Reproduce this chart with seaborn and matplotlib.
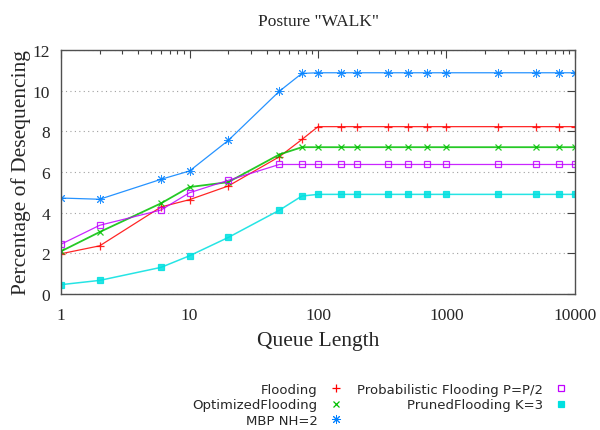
import matplotlib
matplotlib.use('Agg')
import matplotlib.pyplot as plt
from matplotlib.lines import Line2D
import pandas as pd
import seaborn as sns

# Data
queue_length = [1, 2, 6, 10, 20, 50, 75, 100, 150, 200, 350, 500, 700, 1000, 2500, 5000, 7500, 10000]

flooding = [1.98, 2.37, 4.28, 4.64, 5.31, 6.75, 7.6, 8.23, 8.23, 8.23, 8.23,
            8.23, 8.23, 8.23, 8.23, 8.23, 8.23, 8.23]
optimized = [2.1, 3.05, 4.46, 5.26, 5.5, 6.86, 7.22, 7.22, 7.22, 7.22, 7.22,
             7.22, 7.22, 7.22, 7.22, 7.22, 7.22, 7.22]
mbp = [4.72, 4.66, 5.64, 6.05, 7.55, 9.97, 10.85, 10.88, 10.88, 10.88, 10.88,
       10.88, 10.88, 10.88, 10.88, 10.88, 10.88, 10.88]
probabilistic = [2.45, 3.38, 4.13, 4.98, 5.59, 6.37, 6.37, 6.37, 6.37, 6.37, 6.37,
                 6.37, 6.37, 6.37, 6.37, 6.37, 6.37, 6.37]
pruned = [0.46, 0.67, 1.31, 1.88, 2.78, 4.12, 4.82, 4.9, 4.9, 4.9, 4.9,
          4.9, 4.9, 4.9, 4.9, 4.9, 4.9, 4.9]

series_names = ['Flooding', 'OptimizedFlooding', 'MBP NH=2',
                'Probabilistic Flooding P=P/2', 'PrunedFlooding K=3']
series_values = [flooding, optimized, mbp, probabilistic, pruned]

colors = ['#ff0000', '#00c000', '#0080ff', '#c000ff', '#00e0e0']
markers = ['+', 'x', (8, 2, 0), 's', 's']
marker_sizes = [6, 5, 6.5, 4.5, 5]
edge_widths = [0.9, 0.9, 0.7, 0.9, 0.9]
face_colors = ['none', 'none', 'none', 'none', '#00e0e0']
line_widths = [0.9, 1.3, 0.9, 0.9, 1.1]

x_ticks = [1, 10, 100, 1000, 10000]
x_tick_labels = ['1', '10', '100', '1000', '10000']
y_ticks = [0, 2, 4, 6, 8, 10, 12]

sns.set_style('white')
plt.rcParams['font.family'] = ['Liberation Serif', 'DejaVu Serif']

fig = plt.figure(figsize=(6, 4.31), dpi=100)
ax = fig.add_axes([0.1017, 0.3155, 0.8566, 0.5662])

for name, vals, c, m, ms, mew, fc, lw in zip(series_names, series_values, colors, markers,
                                             marker_sizes, edge_widths, face_colors, line_widths):
    df = pd.DataFrame({'x': queue_length, 'y': vals})
    sns.lineplot(data=df, x='x', y='y', ax=ax, color=c, marker=m,
                 markersize=ms, markeredgecolor=c, markerfacecolor=fc,
                 markeredgewidth=mew, linewidth=lw, alpha=0.85, legend=False)

ax.set_xscale('log')
ax.set_xlim(1, 10000)
ax.set_ylim(0, 12)
ax.set_xticks(x_ticks)
ax.set_xticklabels(x_tick_labels)
ax.set_yticks(y_ticks)
ax.tick_params(which='both', direction='in', top=True, right=True,
               labelsize=12.5, color='#404040')
ax.tick_params(which='major', length=6, width=0.8)
ax.tick_params(which='minor', length=3, width=0.8)
ax.tick_params(axis='x', pad=9)
ax.tick_params(axis='y', pad=8)
for sp in ax.spines.values():
    sp.set_color('#505050')
    sp.set_linewidth(1.0)

ax.yaxis.grid(True, linestyle=(0, (1, 3)), color='#a0a0a0', linewidth=0.8)
ax.xaxis.grid(False)

ax.set_xlabel('Queue Length', fontsize=15.5, labelpad=6)
ax.set_ylabel('Percentage of Desequencing', fontsize=15.5, labelpad=1)
ax.set_title('Posture "WALK"', fontsize=12.5, pad=18)

handles = [Line2D([], [], color=c, marker=m, markersize=ms, markeredgecolor=c,
                  markerfacecolor=fc, markeredgewidth=mew, linestyle='')
           for c, m, ms, mew, fc in zip(colors, markers, marker_sizes, edge_widths, face_colors)]
fig.legend(handles, series_names, ncol=2, markerfirst=False, frameon=False,
           loc='upper right', bbox_to_anchor=(0.96, 0.125),
           prop={'family': 'DejaVu Sans', 'size': 9.5},
           handlelength=1.2, handletextpad=0.8, columnspacing=1.0,
           labelspacing=0.2, borderpad=0)

fig.savefig('out.png', dpi=100)
